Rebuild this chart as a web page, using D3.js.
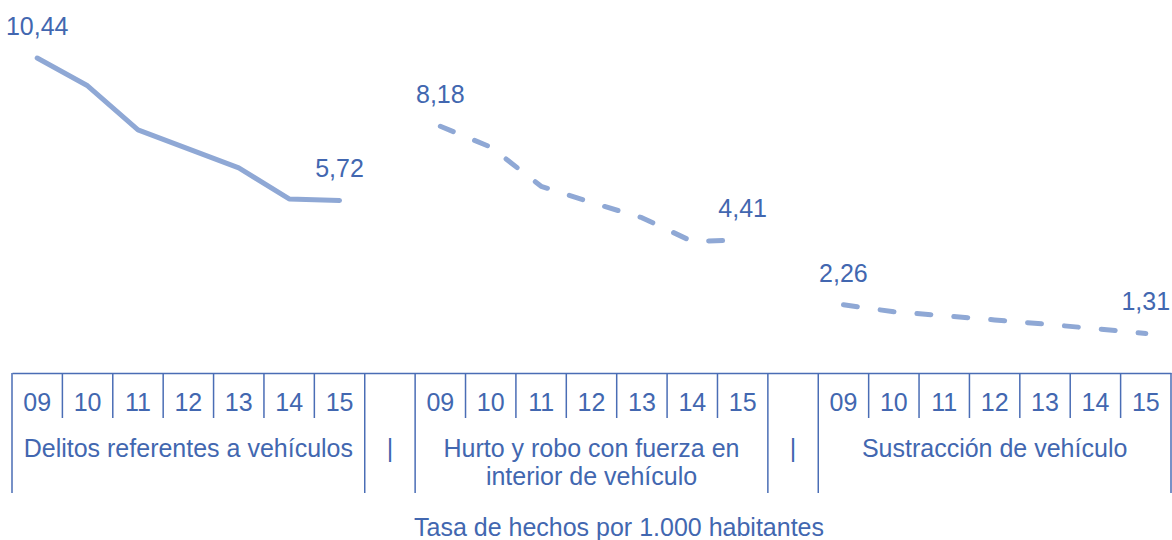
<!DOCTYPE html>
<html>
<head>
<meta charset="utf-8">
<script src="https://cdn.jsdelivr.net/npm/d3@7"></script>
<style>
  body { margin: 0; background: #fff; }
  text { font-family: "Liberation Sans", Arial, sans-serif; }
</style>
</head>
<body>
<svg id="chart"></svg>
<script>
const years = ["09", "10", "11", "12", "13", "14", "15"];
const groups = ["Delitos referentes a vehículos", "Hurto y robo con fuerza en interior de vehículo", "Sustracción de vehículo"];
const delitos = [10.44, 9.52, 8.06, 7.43, 6.80, 5.77, 5.72];
const hurto = [8.18, 7.49, 6.19, 5.65, 5.15, 4.36, 4.41];
const sustraccion = [2.26, 2.03, 1.90, 1.76, 1.62, 1.47, 1.31];
const axisTitle = "Tasa de hechos por 1.000 habitantes";

const width = 1172, height = 540;
const textColor = "#4267b0", lineColor = "#8fa8d5", axisColor = "#4a6db5";
const fontSize = 25;

const seriesList = [
  { values: delitos, dash: null },
  { values: hurto, dash: "14,23" },
  { values: sustraccion, dash: "14,23" }
];

// slot keys: 7 years per group, one empty slot between groups
let slots = [];
groups.forEach(function(g, gi) {
  years.forEach(function(y) { slots.push(gi + "-" + y); });
  if (gi < groups.length - 1) slots.push("sep-" + gi);
});

const x = d3.scaleBand().domain(slots).range([12, 1171]);
const y = d3.scaleLinear().domain([0, 12]).range([373, 11]);

const svg = d3.select("#chart").attr("width", width).attr("height", height);

// lines
let line = d3.line()
  .x(function(d) { return x(d.key) + x.bandwidth() / 2; })
  .y(function(d) { return y(d.v); });

seriesList.forEach(function(s, gi) {
  let pts = s.values.map(function(v, i) { return { key: gi + "-" + years[i], v: v }; });
  svg.append("path")
    .datum(pts)
    .attr("d", line)
    .attr("fill", "none")
    .attr("stroke", lineColor)
    .attr("stroke-width", 5)
    .attr("stroke-linecap", "round")
    .attr("stroke-linejoin", "round")
    .attr("stroke-dasharray", s.dash);

  // first and last value labels
  [pts[0], pts[pts.length - 1]].forEach(function(p) {
    svg.append("text")
      .attr("x", x(p.key) + x.bandwidth() / 2)
      .attr("y", y(p.v) - 23)
      .attr("text-anchor", "middle")
      .attr("fill", textColor)
      .style("font-size", fontSize + "px")
      .text(p.v.toFixed(2).replace(".", ","));
  });
});

// axis with year labels
let axisY = y(0);
let xAxis = d3.axisBottom(x)
  .tickSize(0)
  .tickSizeOuter(0)
  .tickPadding(0)
  .tickFormat(function(k) { return k.indexOf("sep") === 0 ? "" : k.split("-")[1]; });

let gAxis = svg.append("g")
  .attr("transform", "translate(0," + axisY + ")")
  .call(xAxis);
gAxis.select(".domain").attr("stroke", axisColor).attr("stroke-width", 1.5);
gAxis.selectAll(".tick text")
  .attr("y", 38)
  .attr("dy", null)
  .attr("fill", textColor)
  .style("font-size", fontSize + "px")
  .style("font-family", "'Liberation Sans', Arial, sans-serif");

// dividers
let bounds = slots.map(function(k) { return { key: k, x: x(k) }; });
bounds.push({ key: "end", x: x.range()[1] });
bounds.forEach(function(b, i) {
  let prev = i > 0 ? slots[i - 1] : "sep";
  let cur = slots[i] || "sep";
  let long = prev.indexOf("sep") === 0 || cur.indexOf("sep") === 0 || i === 0 || i === slots.length;
  svg.append("line")
    .attr("x1", b.x).attr("x2", b.x)
    .attr("y1", axisY)
    .attr("y2", axisY + (long ? 120 : 45))
    .attr("stroke", axisColor)
    .attr("stroke-width", 1.5);
});

// group labels (wrapped)
function wrapLines(text, maxW) {
  let words = text.split(" "), lines = [], cur = "";
  let probe = svg.append("text").style("font-size", fontSize + "px");
  words.forEach(function(w) {
    let test = cur ? cur + " " + w : w;
    probe.text(test);
    if (probe.node().getComputedTextLength() > maxW && cur) { lines.push(cur); cur = w; }
    else cur = test;
  });
  lines.push(cur);
  probe.remove();
  return lines;
}

groups.forEach(function(g, gi) {
  let x0 = x(gi + "-" + years[0]);
  let x1 = x(gi + "-" + years[years.length - 1]) + x.bandwidth();
  let lines = wrapLines(g, x1 - x0 - 8);
  let t = svg.append("text")
    .attr("text-anchor", "middle")
    .attr("fill", textColor)
    .style("font-size", fontSize + "px");
  lines.forEach(function(l, li) {
    t.append("tspan")
      .attr("x", (x0 + x1) / 2)
      .attr("y", axisY + 84 + li * 28)
      .text(l);
  });
});

// separator marks
slots.filter(function(k) { return k.indexOf("sep") === 0; }).forEach(function(k) {
  svg.append("text")
    .attr("x", x(k) + x.bandwidth() / 2)
    .attr("y", axisY + 84)
    .attr("text-anchor", "middle")
    .attr("fill", textColor)
    .style("font-size", fontSize + "px")
    .text("|");
});

// axis title
svg.append("text")
  .attr("x", 619)
  .attr("y", 536)
  .attr("text-anchor", "middle")
  .attr("fill", textColor)
  .style("font-size", fontSize + "px")
  .text(axisTitle);
</script>
</body>
</html>
